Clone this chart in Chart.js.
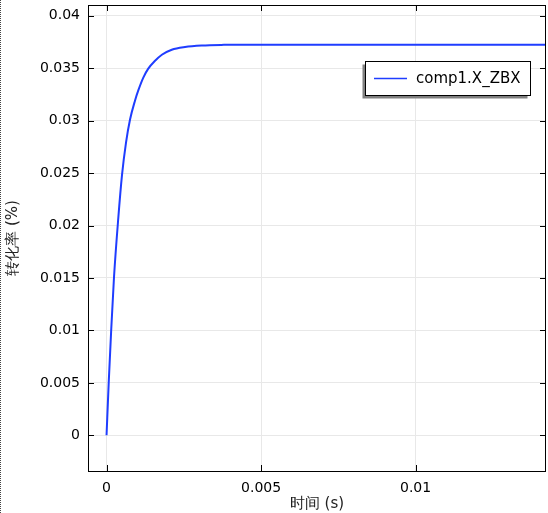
<!DOCTYPE html>
<html>
<head>
<meta charset="utf-8">
<script src="https://cdn.jsdelivr.net/npm/chart.js@4"></script>
<style>
  html, body { margin: 0; padding: 0; background: #fff; }
  #wrap { position: relative; width: 548px; height: 513px; }
  #edge { position: absolute; left: 0; top: 0; width: 0; height: 513px; border-left: 1px dotted #444; }
</style>
</head>
<body>
<div id="wrap">
  <canvas id="chart" width="548" height="513"></canvas>
  <div id="edge"></div>
</div>
<script>
// time (s) and conversion values
const timeValues = [0, 0.00007, 0.00015, 0.00024, 0.00038, 0.0005, 0.00063, 0.00076, 0.00092,
  0.00103, 0.00119, 0.00135, 0.00157, 0.00179, 0.00211, 0.00254, 0.00308, 0.0038, 0.005, 0.0143];
const conversionValues = [0, 0.005, 0.010, 0.015, 0.0207, 0.0248, 0.0279, 0.0301, 0.0319,
  0.0329, 0.0341, 0.03495, 0.0357, 0.03628, 0.03676, 0.03702, 0.03716, 0.03722, 0.03724, 0.03724];
const seriesLabel = "comp1.X_ZBX";
const xTicks = [0, 0.005, 0.01];
const yTicks = [0, 0.005, 0.01, 0.015, 0.02, 0.025, 0.03, 0.035, 0.04];

const FONT = "'DejaVu Sans', sans-serif";
const LINE_COLOR = "#1f3dff";

// inward tick marks on all four sides, plus legend box with shadow
const framePlugin = {
  id: "frame",
  afterDraw: function (chart) {
    const c = chart.ctx;
    const a = chart.chartArea;
    const xs = chart.scales.x, ys = chart.scales.y;
    c.save();
    c.strokeStyle = "#000";
    c.lineWidth = 1;
    c.strokeRect(Math.round(a.left) + 0.5, Math.round(a.top) + 0.5,
      Math.round(a.right - a.left) - 1, Math.round(a.bottom - a.top));
    c.beginPath();
    xTicks.forEach(function (v) {
      const px = Math.round(xs.getPixelForValue(v)) + 0.5;
      c.moveTo(px, a.bottom); c.lineTo(px, a.bottom - 6);
      c.moveTo(px, a.top); c.lineTo(px, a.top + 6);
    });
    yTicks.forEach(function (v) {
      const py = Math.round(ys.getPixelForValue(v)) + 0.5;
      c.moveTo(a.left, py); c.lineTo(a.left + 6, py);
      c.moveTo(a.right, py); c.lineTo(a.right - 6, py);
    });
    c.stroke();

    // legend
    const bx = 365.5, by = 61.5, bw = 165, bh = 34;
    c.fillStyle = "#808080";
    c.fillRect(bx - 3, by + 3, bw, bh);
    c.fillStyle = "#fff";
    c.fillRect(bx, by, bw, bh);
    c.strokeStyle = "#000";
    c.strokeRect(bx, by, bw, bh);
    c.strokeStyle = LINE_COLOR;
    c.lineWidth = 1.5;
    c.beginPath();
    c.moveTo(374, 78.5); c.lineTo(407, 78.5);
    c.stroke();
    c.fillStyle = "#000";
    c.font = "15px " + FONT;
    c.textBaseline = "middle";
    c.textAlign = "left";
    c.fillText(chart.data.datasets[0].label, 416, 79);
    c.restore();
  }
};

new Chart(document.getElementById("chart"), {
  type: "scatter",
  data: {
    datasets: [{
      label: seriesLabel,
      data: timeValues.map(function (t, i) { return { x: t, y: conversionValues[i] }; }),
      showLine: true,
      borderColor: LINE_COLOR,
      borderWidth: 2,
      pointRadius: 0,
      cubicInterpolationMode: "monotone",
      fill: false
    }]
  },
  options: {
    responsive: false,
    animation: false,
    layout: { padding: { top: 5, right: 2, left: 0, bottom: 0 } },
    plugins: { legend: { display: false }, tooltip: { enabled: false } },
    scales: {
      x: {
        type: "linear",
        min: -0.0006,
        max: 0.01422,
        afterBuildTicks: function (s) { s.ticks = xTicks.map(function (v) { return { value: v }; }); },
        afterFit: function (s) { s.height = 42; s.paddingLeft = 0; s.paddingRight = 0; },
        ticks: {
          color: "#000", font: { family: FONT, size: 14 }, padding: 9, maxRotation: 0,
          callback: function (v) { return String(v); }
        },
        grid: { color: "#e8e8e8", lineWidth: 1, drawTicks: false },
        border: { display: false },
        title: { display: true, text: "时间 (s)", color: "#222", font: { family: FONT, size: 15 }, padding: { top: 0, bottom: 0 } }
      },
      y: {
        type: "linear",
        min: -0.0034,
        max: 0.04102,
        afterBuildTicks: function (s) { s.ticks = yTicks.map(function (v) { return { value: v }; }); },
        afterFit: function (s) { s.width = 88; s.paddingTop = 0; s.paddingBottom = 0; },
        ticks: {
          color: "#000", font: { family: FONT, size: 14 }, padding: 8,
          callback: function (v) { return String(v); }
        },
        grid: { color: "#e8e8e8", lineWidth: 1, drawTicks: false },
        border: { display: false },
        title: { display: true, text: "转化率 (%)", color: "#222", font: { family: FONT, size: 15 }, padding: { top: 4, bottom: 0 } }
      }
    }
  },
  plugins: [framePlugin]
});
</script>
</body>
</html>
